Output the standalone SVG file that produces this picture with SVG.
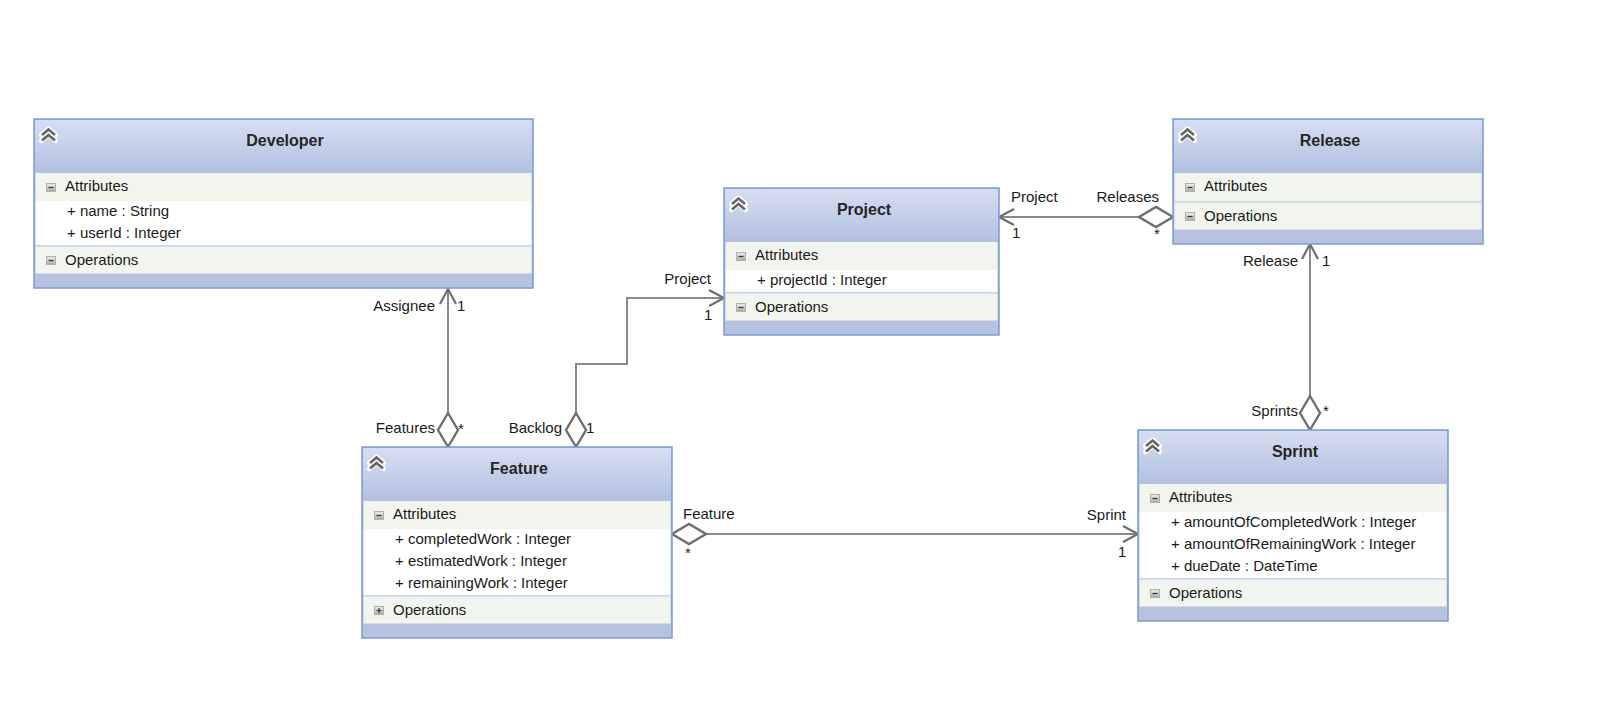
<svg xmlns="http://www.w3.org/2000/svg" xmlns:xlink="http://www.w3.org/1999/xlink" width="1599" height="703" viewBox="0 0 1599 703">
<style>
.box{fill:#b6c2df;stroke:#7b9bd3;stroke-width:1.5}
.hdr{fill:url(#hdr)}
.sec{fill:#f2f5ee}
.rows{fill:#ffffff}
.sep{fill:#c9d3ea}
.title{font-family:"Liberation Sans",Arial,sans-serif;font-size:16px;font-weight:bold;fill:#262626;text-anchor:middle}
.t{font-family:"Liberation Sans",Arial,sans-serif;font-size:15px;fill:#1a1a1a}
.lbl{font-family:"Liberation Sans",Arial,sans-serif;font-size:15px;fill:#1a1a1a}
.end{text-anchor:end}
.conn{fill:none;stroke:#8a8a8a;stroke-width:2;marker-end:url(#arrow)}
.agg{marker-start:url(#diamond)}
</style>
<defs>
<linearGradient id="hdr" x1="0" y1="0" x2="0" y2="1">
<stop offset="0" stop-color="#d6def1"/>
<stop offset="1" stop-color="#b2bfe0"/>
</linearGradient>
<linearGradient id="tg" x1="0" y1="0" x2="0" y2="1">
<stop offset="0" stop-color="#f0f0f0"/>
<stop offset="1" stop-color="#a8a8a8"/>
</linearGradient>
<symbol id="chev" overflow="visible">
<path d="M1.5,8 L8.5,2 L15.5,8 M1.5,13.5 L8.5,7.5 L15.5,13.5" fill="none" stroke="#ffffff" stroke-width="5" stroke-linejoin="round" stroke-linecap="round"/>
<path d="M2,8 L8.5,2.5 L15,8 M2,13.5 L8.5,8 L15,13.5" fill="none" stroke="#666666" stroke-width="2.6"/>
</symbol>
<symbol id="minus" overflow="visible">
<rect x="0.5" y="0.5" width="9" height="8" fill="url(#tg)" stroke="#b0b0b0" stroke-width="1"/>
<path d="M2.5,4.5 H7.5" stroke="#333" stroke-width="1.2"/>
</symbol>
<symbol id="plus" overflow="visible">
<rect x="0.5" y="0.5" width="9" height="8" fill="url(#tg)" stroke="#b0b0b0" stroke-width="1"/>
<path d="M2.5,4.5 H7.5 M5,2 V7" stroke="#333" stroke-width="1.2"/>
</symbol>
<marker id="arrow" markerUnits="userSpaceOnUse" markerWidth="20" markerHeight="20" refX="0" refY="0" orient="auto" overflow="visible">
<path d="M-15,-8 L0,0 L-15,8" fill="none" stroke="#6e6e6e" stroke-width="2.2"/>
</marker>
<marker id="diamond" markerUnits="userSpaceOnUse" markerWidth="40" markerHeight="24" refX="0" refY="0" orient="auto" overflow="visible">
<path d="M0,0 L17,-10 L34,0 L17,10 Z" fill="#ffffff" stroke="#6e6e6e" stroke-width="2.4" stroke-linejoin="miter"/>
</marker>
</defs>
<rect width="1599" height="703" fill="#ffffff"/>

<g id="connectors">
<path class="conn agg" d="M448,447 L448,289"/>
<path class="conn agg" d="M576,447 L576,364 L627,364 L627,298 L724,298"/>
<path class="conn agg" d="M1173,217 L999,217"/>
<path class="conn agg" d="M1310,430 L1310,244"/>
<path class="conn agg" d="M672,534 L1138,534"/>
<text class="lbl end" x="435" y="311">Assignee</text>
<text class="lbl" x="457" y="311">1</text>
<text class="lbl end" x="435" y="433">Features</text>
<text class="lbl" x="458" y="434">*</text>
<text class="lbl end" x="562" y="433">Backlog</text>
<text class="lbl" x="586" y="433">1</text>
<text class="lbl end" x="711" y="284">Project</text>
<text class="lbl" x="704" y="320">1</text>
<text class="lbl" x="1011" y="202">Project</text>
<text class="lbl" x="1012" y="238">1</text>
<text class="lbl end" x="1159" y="202">Releases</text>
<text class="lbl" x="1154" y="239">*</text>
<text class="lbl end" x="1298" y="266">Release</text>
<text class="lbl" x="1322" y="266">1</text>
<text class="lbl end" x="1298" y="416">Sprints</text>
<text class="lbl" x="1323" y="416">*</text>
<text class="lbl" x="683" y="519">Feature</text>
<text class="lbl" x="685" y="558">*</text>
<text class="lbl end" x="1126" y="520">Sprint</text>
<text class="lbl" x="1118" y="557">1</text>
</g>

<g id="developer">
<rect class="box" x="34" y="119" width="499" height="169"/>
<rect class="hdr" x="35" y="120" width="497" height="53"/>
<rect class="sec" x="35.5" y="173" width="496" height="28"/>
<rect class="rows" x="35.5" y="201" width="496" height="44"/>
<rect class="sep" x="35.5" y="245" width="496" height="1.5"/>
<rect class="sec" x="35.5" y="246.5" width="496" height="27"/>
<use xlink:href="#chev" x="40" y="127"/>
<text class="title" x="285" y="146">Developer</text>
<use xlink:href="#minus" x="46" y="183"/>
<text class="t" x="65" y="191">Attributes</text>
<text class="t" x="67" y="216">+ name : String</text>
<text class="t" x="67" y="238">+ userId : Integer</text>
<use xlink:href="#minus" x="46" y="256"/>
<text class="t" x="65" y="265">Operations</text>
</g>

<g id="project">
<rect class="box" x="724" y="188" width="275" height="147"/>
<rect class="hdr" x="725" y="189" width="273" height="53"/>
<rect class="sec" x="725.5" y="242" width="272" height="28"/>
<rect class="rows" x="725.5" y="270" width="272" height="22"/>
<rect class="sep" x="725.5" y="292" width="272" height="1.5"/>
<rect class="sec" x="725.5" y="293.5" width="272" height="27"/>
<use xlink:href="#chev" x="730" y="196"/>
<text class="title" x="864" y="215">Project</text>
<use xlink:href="#minus" x="736" y="252"/>
<text class="t" x="755" y="260">Attributes</text>
<text class="t" x="757" y="285">+ projectId : Integer</text>
<use xlink:href="#minus" x="736" y="303"/>
<text class="t" x="755" y="312">Operations</text>
</g>

<g id="release">
<rect class="box" x="1173" y="119" width="310" height="125"/>
<rect class="hdr" x="1174" y="120" width="308" height="53"/>
<rect class="sec" x="1174.5" y="173" width="307" height="28"/>
<rect class="sep" x="1174.5" y="201" width="307" height="1.5"/>
<rect class="sec" x="1174.5" y="202.5" width="307" height="27"/>
<use xlink:href="#chev" x="1179" y="127"/>
<text class="title" x="1330" y="146">Release</text>
<use xlink:href="#minus" x="1185" y="183"/>
<text class="t" x="1204" y="191">Attributes</text>
<use xlink:href="#minus" x="1185" y="212"/>
<text class="t" x="1204" y="221">Operations</text>
</g>

<g id="feature">
<rect class="box" x="362" y="447" width="310" height="191"/>
<rect class="hdr" x="363" y="448" width="308" height="53"/>
<rect class="sec" x="363.5" y="501" width="307" height="28"/>
<rect class="rows" x="363.5" y="529" width="307" height="66"/>
<rect class="sep" x="363.5" y="595" width="307" height="1.5"/>
<rect class="sec" x="363.5" y="596.5" width="307" height="27"/>
<use xlink:href="#chev" x="368" y="455"/>
<text class="title" x="519" y="474">Feature</text>
<use xlink:href="#minus" x="374" y="511"/>
<text class="t" x="393" y="519">Attributes</text>
<text class="t" x="395" y="544">+ completedWork : Integer</text>
<text class="t" x="395" y="566">+ estimatedWork : Integer</text>
<text class="t" x="395" y="588">+ remainingWork : Integer</text>
<use xlink:href="#plus" x="374" y="606"/>
<text class="t" x="393" y="615">Operations</text>
</g>

<g id="sprint">
<rect class="box" x="1138" y="430" width="310" height="191"/>
<rect class="hdr" x="1139" y="431" width="308" height="53"/>
<rect class="sec" x="1139.5" y="484" width="307" height="28"/>
<rect class="rows" x="1139.5" y="512" width="307" height="66"/>
<rect class="sep" x="1139.5" y="578" width="307" height="1.5"/>
<rect class="sec" x="1139.5" y="579.5" width="307" height="27"/>
<use xlink:href="#chev" x="1144" y="438"/>
<text class="title" x="1295" y="457">Sprint</text>
<use xlink:href="#minus" x="1150" y="494"/>
<text class="t" x="1169" y="502">Attributes</text>
<text class="t" x="1171" y="527">+ amountOfCompletedWork : Integer</text>
<text class="t" x="1171" y="549">+ amountOfRemainingWork : Integer</text>
<text class="t" x="1171" y="571">+ dueDate : DateTime</text>
<use xlink:href="#minus" x="1150" y="589"/>
<text class="t" x="1169" y="598">Operations</text>
</g>
</svg>
